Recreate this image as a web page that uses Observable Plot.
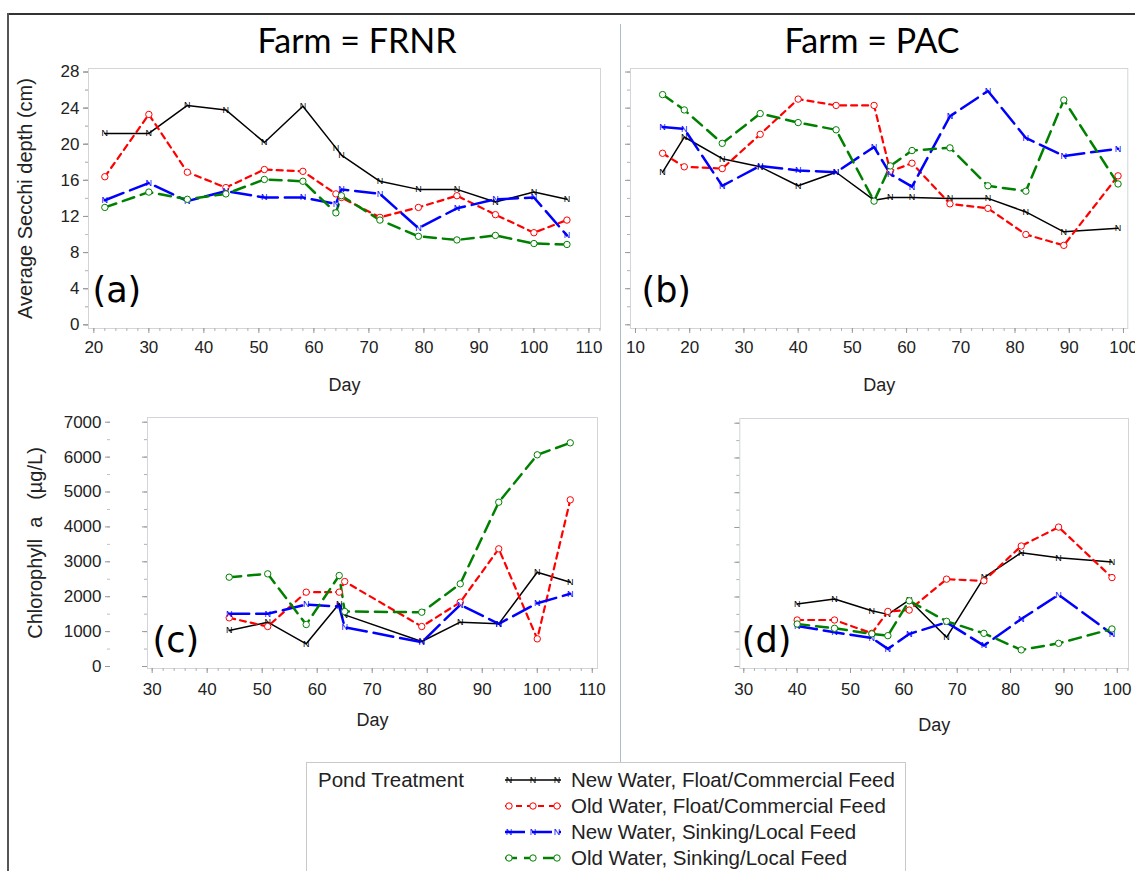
<!DOCTYPE html>
<html><head><meta charset="utf-8">
<script src="https://cdn.jsdelivr.net/npm/d3@7"></script>
<script src="https://cdn.jsdelivr.net/npm/@observablehq/plot@0.6"></script>
<style>
body{margin:0;background:#fff;}
#fig{position:relative;width:1135px;height:871px;overflow:hidden;background:#fff;font-family:"Liberation Sans",Arial,sans-serif;color:#222;}
.abs{position:absolute;}
.title{position:absolute;font-family:Lato,"Liberation Sans",sans-serif;font-size:34px;line-height:40px;color:#000;transform:translateX(-50%);white-space:nowrap;}
.legrow{position:absolute;left:0;height:26px;line-height:26px;font-size:20.5px;white-space:nowrap;color:#222;}
</style></head><body><div id="fig"></div>
<script>
// ---------------- DATA ----------------
const treatments = [
  "New Water, Float/Commercial Feed",
  "Old Water, Float/Commercial Feed",
  "New Water, Sinking/Local Feed",
  "Old Water, Sinking/Local Feed"
];

// Secchi depth (cm), Farm = FRNR
const secchiDaysFRNR = [22, 30, 37, 44, 51, 58, 64, 65, 72, 79, 86, 93, 100, 106];
const secchiFRNR_NewFloat  = [21.2, 21.2, 24.3, 23.8, 20.2, 24.2, 19.6, 18.8, 15.9, 15.0, 15.0, 13.6, 14.7, 13.9];
const secchiFRNR_OldFloat  = [16.4, 23.3, 16.9, 15.2, 17.2, 17.0, 14.5, 14.1, 11.9, 13.0, 14.3, 12.2, 10.2, 11.6];
const secchiFRNR_NewSink   = [13.8, 15.7, 13.7, 14.8, 14.1, 14.1, 13.4, 15.0, 14.5, 10.7, 12.9, 13.9, 14.1, 9.9];
const secchiFRNR_OldSink   = [13.0, 14.7, 13.9, 14.5, 16.1, 15.9, 12.4, 14.3, 11.6, 9.8, 9.4, 9.9, 9.0, 8.9];

// Secchi depth (cm), Farm = PAC
const secchiDaysPAC = [15, 19, 26, 33, 40, 47, 54, 57, 61, 68, 75, 82, 89, 99];
const secchiPAC_NewFloat = [16.9, 20.8, 18.4, 17.5, 15.4, 16.9, 13.8, 14.1, 14.1, 14.0, 14.0, 12.5, 10.3, 10.7];
const secchiPAC_OldFloat = [19.0, 17.5, 17.3, 21.1, 25.0, 24.3, 24.3, 17.0, 17.9, 13.4, 12.9, 10.0, 8.8, 16.5];
const secchiPAC_NewSink  = [21.9, 21.7, 15.4, 17.6, 17.1, 16.9, 19.7, 16.7, 15.3, 23.1, 25.9, 20.7, 18.7, 19.5];
const secchiPAC_OldSink  = [25.5, 23.8, 20.1, 23.4, 22.4, 21.6, 13.7, 17.6, 19.3, 19.6, 15.4, 14.8, 24.9, 15.6];

// Chlorophyll a (ug/L), Farm = FRNR
const chlDaysFRNR = [44, 51, 58, 64, 65, 79, 86, 93, 100, 106];
const chlFRNR_NewFloat = [1030, 1270, 650, 1800, 1480, 716, 1270, 1223, 2702, 2416];
const chlFRNR_OldFloat = [1395, 1146, 2130, 2130, 2435, 1146, 1843, 3372, 793, 4776];
const chlFRNR_NewSink  = [1510, 1510, 1776, 1719, 1126, 696, 1768, 1223, 1814, 2083];
const chlFRNR_OldSink  = [2559, 2655, 1203, 2607, 1576, 1556, 2369, 4708, 6066, 6410];

// Chlorophyll a (ug/L), Farm = PAC
const chlDaysPAC = [40, 47, 54, 57, 61, 68, 75, 82, 89, 99];
const chlPAC_NewFloat = [1797, 1940, 1605, 1500, 1911, 840, 2560, 3275, 3132, 3009];
const chlPAC_OldFloat = [1338, 1338, 955, 1585, 1624, 2513, 2464, 3467, 4011, 2559];
const chlPAC_NewSink  = [1166, 983, 822, 507, 937, 1270, 602, 1366, 2063, 937];
const chlPAC_OldSink  = [1223, 1100, 940, 888, 1891, 1300, 955, 478, 668, 1080];

const secchiTicks = [0, 4, 8, 12, 16, 20, 24, 28];
const chlTicks = [0, 1000, 2000, 3000, 4000, 5000, 6000, 7000];
const dayTicksFRNRa = [20, 30, 40, 50, 60, 70, 80, 90, 100, 110];
const dayTicksPACb = [10, 20, 30, 40, 50, 60, 70, 80, 90, 100];
const dayTicksFRNRc = [30, 40, 50, 60, 70, 80, 90, 100, 110];
const dayTicksPACd = [30, 40, 50, 60, 70, 80, 90, 100];

// ---------------- STYLES ----------------
const styles = [
  {color: "#000000", dash: null,   width: 1.5, marker: "N"},
  {color: "#ff0000", dash: "6,5",  width: 2.2, marker: "o"},
  {color: "#0000ff", dash: "20,7", width: 2.5, marker: "N"},
  {color: "#008000", dash: "12,7", width: 2.5, marker: "o"}
];

function build(days, arrays) {
  const rows = [];
  arrays.forEach((arr, i) => arr.forEach((v, j) => rows.push({day: days[j], value: v, series: treatments[i]})));
  return rows;
}
function range(a, b, s) { const r = []; for (let v = a; v <= b + 1e-9; v += s) r.push(v); return r; }

function seriesMarks(rows) {
  const marks = [];
  treatments.forEach((t, i) => {
    const st = styles[i];
    marks.push(Plot.line(rows, {filter: d => d.series === t, x: "day", y: "value", stroke: st.color,
      strokeWidth: st.width, strokeDasharray: st.dash || undefined, strokeLinejoin: "round"}));
  });
  treatments.forEach((t, i) => {
    const st = styles[i];
    if (st.marker === "o") {
      marks.push(Plot.dot(rows, {filter: d => d.series === t, x: "day", y: "value", r: 3.2, stroke: st.color, fill: "white", strokeWidth: 1}));
    } else {
      marks.push(Plot.text(rows, {filter: d => d.series === t, x: "day", y: "value", text: () => "N", fontSize: 9, fill: st.color, fontFamily: "Liberation Sans Narrow, Liberation Sans, sans-serif"}));
    }
  });
  return marks;
}

function panel(cfg) {
  const marks = [Plot.frame({stroke: "#d2d6db"})];
  marks.push(Plot.axisX({ticks: cfg.xMinor, tickSize: 3, tickFormat: () => "", stroke: "#b0b0b0", label: null}));
  marks.push(Plot.axisX({ticks: cfg.xTicks, tickSize: 5, tickPadding: cfg.xPad, stroke: "#999", fill: "#222", fontSize: 17, label: null, tickFormat: d => String(d)}));
  marks.push(Plot.axisY({ticks: cfg.yMinor, tickSize: 3, tickFormat: () => "", stroke: "#b0b0b0", label: null}));
  marks.push(Plot.axisY({ticks: cfg.yTicks, tickSize: 5, tickFormat: () => "", stroke: "#999", label: null}));
  if (cfg.yLabels) {
    marks.push(Plot.axisY({ticks: cfg.yMinor, tickSize: 3, tickFormat: () => "", stroke: "#c0c0c0", label: null, dx: cfg.yDx}));
    marks.push(Plot.axisY({ticks: cfg.yTicks, tickSize: 5, tickPadding: 4, stroke: "#999", fill: "#222", fontSize: 17, label: null, dx: cfg.yDx, tickFormat: d => String(d)}));
  }
  marks.push(...seriesMarks(cfg.rows));
  marks.push(Plot.text([cfg.tag], {frameAnchor: "bottom-left", textAnchor: "start", dx: cfg.tagDx, dy: cfg.tagDy, fontSize: 35, fill: "#000", fontFamily: "'DejaVu Sans', sans-serif"}));
  marks.push(Plot.text(["Day"], {frameAnchor: "bottom", dy: cfg.dayDy, fontSize: 18, fill: "#222"}));
  if (cfg.yTitle) {
    marks.push(Plot.text([cfg.yTitle], {frameAnchor: "left", textAnchor: "middle", rotate: -90, dx: cfg.yTitleDx, fontSize: 20, fill: "#222"}));
  }
  const chart = Plot.plot({
    width: cfg.width, height: cfg.height,
    marginLeft: cfg.ml, marginRight: cfg.mr, marginTop: cfg.mt, marginBottom: cfg.mb,
    x: {domain: cfg.xDomain},
    y: {domain: cfg.yDomain},
    style: {fontFamily: "'Liberation Sans', Arial, sans-serif", fontSize: "17px", background: "transparent", overflow: "visible"},
    marks
  });
  const wrap = document.createElement("div");
  wrap.className = "abs";
  wrap.style.left = cfg.left + "px";
  wrap.style.top = cfg.top + "px";
  wrap.appendChild(chart);
  document.getElementById("fig").appendChild(wrap);
}

const fig = document.getElementById("fig");

// figure borders and separator
function line(css) { const d = document.createElement("div"); d.className = "abs"; Object.assign(d.style, css); fig.appendChild(d); }
line({left: "7px", top: "13px", width: "1128px", height: "0px", borderTop: "2px solid #333"});
line({left: "7px", top: "13px", width: "0px", height: "858px", borderLeft: "2px solid #555"});
line({left: "620px", top: "24px", width: "0px", height: "738px", borderLeft: "1px solid #a9bfd0"});

// titles
function title(text, cx) { const d = document.createElement("div"); d.className = "title"; d.textContent = text; d.style.left = cx + "px"; d.style.top = "20px"; fig.appendChild(d); }
title("Farm = FRNR", 357);
title("Farm = PAC", 872);

// panels
panel({left: 0, top: 60, width: 620, height: 340, ml: 88, mr: 20, mt: 8, mb: 72,
  xDomain: [19.03, 112.1], yDomain: [-0.41, 28.39], xTicks: dayTicksFRNRa, xMinor: range(20, 112, 2), xPad: 7,
  yTicks: secchiTicks, yMinor: range(0, 28, 2), yLabels: true, yDx: 0,
  rows: build(secchiDaysFRNR, [secchiFRNR_NewFloat, secchiFRNR_OldFloat, secchiFRNR_NewSink, secchiFRNR_OldSink]),
  tag: "(a)", tagDx: 4, tagDy: -27, dayDy: 62, yTitle: "Average Secchi depth (cm)", yTitleDx: -63});

panel({left: 620, top: 60, width: 515, height: 340, ml: 10, mr: 7.7, mt: 8, mb: 72,
  xDomain: [9.08, 100.8], yDomain: [-0.41, 28.39], xTicks: dayTicksPACb, xMinor: range(10, 100, 2), xPad: 7,
  yTicks: secchiTicks, yMinor: range(0, 28, 2), yLabels: false,
  rows: build(secchiDaysPAC, [secchiPAC_NewFloat, secchiPAC_OldFloat, secchiPAC_NewSink, secchiPAC_OldSink]),
  tag: "(b)", tagDx: 11, tagDy: -27, dayDy: 62});

panel({left: 0, top: 400, width: 620, height: 340, ml: 147, mr: 23, mt: 17, mb: 72,
  xDomain: [29.15, 110.95], yDomain: [-57, 7135], xTicks: dayTicksFRNRc, xMinor: range(30, 110, 2), xPad: 9,
  yTicks: chlTicks, yMinor: range(0, 7000, 500), yLabels: true, yDx: -37,
  rows: build(chlDaysFRNR, [chlFRNR_NewFloat, chlFRNR_OldFloat, chlFRNR_NewSink, chlFRNR_OldSink]),
  tag: "(c)", tagDx: 5, tagDy: -17, dayDy: 57, yTitle: "Chlorophyll  a   (\u00b5g/L)", yTitleDx: -112});

panel({left: 620, top: 400, width: 515, height: 340, ml: 119.3, mr: 7, mt: 18, mb: 72,
  xDomain: [29.25, 102.1], yDomain: [-57, 7135], xTicks: dayTicksPACd, xMinor: range(30, 102, 2), xPad: 9,
  yTicks: chlTicks, yMinor: range(0, 7000, 500), yLabels: false,
  rows: build(chlDaysPAC, [chlPAC_NewFloat, chlPAC_OldFloat, chlPAC_NewSink, chlPAC_OldSink]),
  tag: "(d)", tagDx: 2, tagDy: -17, dayDy: 62});

// legend
const leg = document.createElement("div");
leg.className = "abs";
Object.assign(leg.style, {left: "306px", top: "762px", width: "600px", height: "130px", border: "1px solid #c9c9c9", boxSizing: "border-box"});
fig.appendChild(leg);
const head = document.createElement("div");
head.className = "legrow"; head.style.left = "11px"; head.style.top = "4px";
head.textContent = "Pond Treatment";
leg.appendChild(head);
treatments.forEach((t, i) => {
  const st = styles[i];
  const row = document.createElement("div");
  row.className = "legrow";
  row.style.top = (4 + i * 26) + "px";
  row.style.left = "196px";
  const ns = "http://www.w3.org/2000/svg";
  const svg = document.createElementNS(ns, "svg");
  svg.setAttribute("width", "60"); svg.setAttribute("height", "26");
  svg.style.verticalAlign = "top";
  const ln = document.createElementNS(ns, "line");
  ln.setAttribute("x1", "2"); ln.setAttribute("x2", "58"); ln.setAttribute("y1", "13"); ln.setAttribute("y2", "13");
  ln.setAttribute("stroke", st.color); ln.setAttribute("stroke-width", st.width);
  if (st.dash) ln.setAttribute("stroke-dasharray", st.dash);
  svg.appendChild(ln);
  [6, 30, 54].forEach(x => {
    if (st.marker === "o") {
      const c = document.createElementNS(ns, "circle");
      c.setAttribute("cx", x); c.setAttribute("cy", 13); c.setAttribute("r", 3.2);
      c.setAttribute("fill", "white"); c.setAttribute("stroke", st.color);
      svg.appendChild(c);
    } else {
      const tx = document.createElementNS(ns, "text");
      tx.setAttribute("x", x); tx.setAttribute("y", 16); tx.setAttribute("text-anchor", "middle");
      tx.setAttribute("font-size", "9"); tx.setAttribute("fill", st.color);
      tx.textContent = "N";
      svg.appendChild(tx);
    }
  });
  row.appendChild(svg);
  const span = document.createElement("span");
  span.textContent = t;
  span.style.marginLeft = "8px";
  row.appendChild(span);
  leg.appendChild(row);
});
</script></body></html>
